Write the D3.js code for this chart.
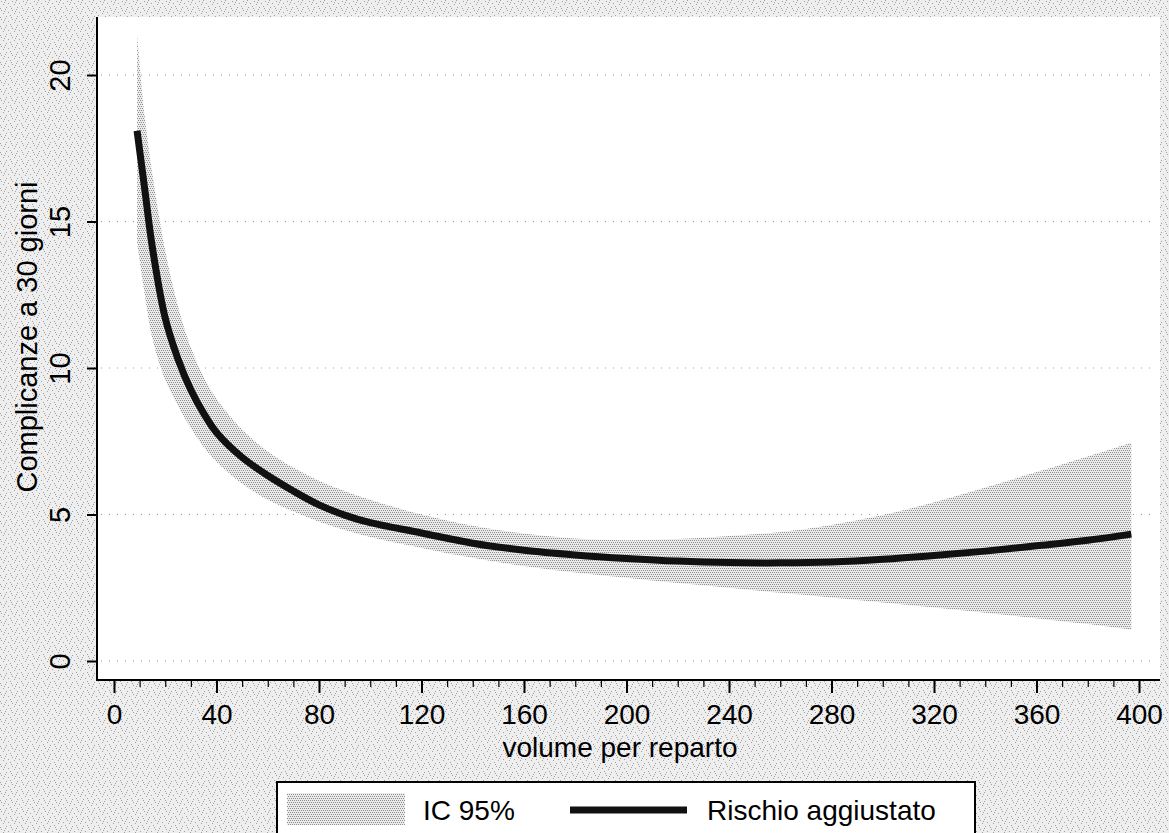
<!DOCTYPE html>
<html>
<head>
<meta charset="utf-8">
<script src="https://cdn.jsdelivr.net/npm/d3@7"></script>
<style>
  body { margin: 0; background: #fff; }
  svg { display: block; font-family: "Liberation Sans", Arial, sans-serif; }
</style>
</head>
<body>
<div id="chart"></div>
<script>
// volume per reparto (x) and curve values
var volume = [9, 12, 15, 20, 25, 30, 35, 40, 50, 60, 70, 80, 90, 100, 120, 140, 160, 180, 200, 220, 240, 260, 280, 300, 320, 340, 360, 380, 397];
var rischio = [18.1, 16.1, 14.1, 11.7, 10.3, 9.25, 8.45, 7.8, 6.95, 6.33, 5.8, 5.33, 4.98, 4.72, 4.37, 4.02, 3.78, 3.62, 3.5, 3.41, 3.36, 3.35, 3.38, 3.47, 3.6, 3.75, 3.93, 4.12, 4.33];
var icUpper = [21.4, 18.6, 16.6, 14.0, 12.1, 10.7, 9.7, 8.95, 7.9, 7.15, 6.6, 6.15, 5.8, 5.5, 5.0, 4.62, 4.35, 4.18, 4.12, 4.16, 4.27, 4.4, 4.64, 4.98, 5.42, 5.92, 6.45, 6.98, 7.45];
var icLower = [14.3, 12.5, 11.0, 9.6, 8.7, 7.95, 7.3, 6.8, 6.05, 5.5, 5.1, 4.75, 4.47, 4.23, 3.86, 3.52, 3.24, 3.02, 2.84, 2.66, 2.5, 2.33, 2.17, 2.0, 1.83, 1.65, 1.46, 1.26, 1.07];

var xTicks = [0, 40, 80, 120, 160, 200, 240, 280, 320, 360, 400];
var yTicks = [0, 5, 10, 15, 20];
var legendLabels = ["IC 95%", "Rischio aggiustato"];

var width = 1169, height = 833;

var svg = d3.select("#chart").append("svg")
  .attr("width", width)
  .attr("height", height);

var defs = svg.append("defs");

// speckled scan background
var bg = defs.append("pattern")
  .attr("id", "speckle")
  .attr("patternUnits", "userSpaceOnUse")
  .attr("width", 11).attr("height", 9);
bg.append("rect").attr("width", 11).attr("height", 9).attr("fill", "#eeeeee");
[[1, 1], [5, 0], [8, 3], [3, 4], [10, 6], [6, 7], [0, 8], [4, 2]].forEach(function(p) {
  bg.append("rect").attr("x", p[0]).attr("y", p[1]).attr("width", 1).attr("height", 1).attr("fill", "#a0a0a0");
});

// stippled band
var band = defs.append("pattern")
  .attr("id", "stipple")
  .attr("patternUnits", "userSpaceOnUse")
  .attr("width", 4).attr("height", 4);
band.append("rect").attr("width", 4).attr("height", 4).attr("fill", "#eaeaea");
[[0, 0], [2, 0], [1, 2], [3, 2]].forEach(function(p) {
  band.append("rect").attr("x", p[0]).attr("y", p[1]).attr("width", 1).attr("height", 1).attr("fill", "#8f8f8f");
});

svg.append("rect").attr("width", width).attr("height", height).attr("fill", "url(#speckle)");

var plot = { left: 97, right: 1160, top: 17, bottom: 680 };

svg.append("rect")
  .attr("x", plot.left).attr("y", plot.top)
  .attr("width", plot.right - plot.left)
  .attr("height", plot.bottom - plot.top)
  .attr("fill", "#fff");

var x = d3.scaleLinear().domain([0, 400]).range([114, 1139]);
var y = d3.scaleLinear().domain([0, 20]).range([661, 75]);

// dotted grid
svg.append("g")
  .selectAll("line")
  .data(yTicks)
  .enter().append("line")
  .attr("x1", plot.left + 4).attr("x2", plot.right - 6)
  .attr("y1", function(d) { return y(d); })
  .attr("y2", function(d) { return y(d); })
  .attr("stroke", "#999")
  .attr("stroke-width", 1)
  .attr("stroke-dasharray", "1,7");

var pts = volume.map(function(v, i) {
  return { v: v, r: rischio[i], lo: icLower[i], hi: icUpper[i] };
});

var area = d3.area()
  .x(function(d) { return x(d.v); })
  .y0(function(d) { return y(d.lo); })
  .y1(function(d) { return y(d.hi); })
  .curve(d3.curveCatmullRom.alpha(0.5));

svg.append("path")
  .datum(pts)
  .attr("d", area)
  .attr("fill", "url(#stipple)");

var line = d3.line()
  .x(function(d) { return x(d.v); })
  .y(function(d) { return y(d.r); })
  .curve(d3.curveCatmullRom.alpha(0.5));

svg.append("path")
  .datum(pts)
  .attr("d", line)
  .attr("fill", "none")
  .attr("stroke", "#111")
  .attr("stroke-width", 7)
  .attr("stroke-linejoin", "round");

// axes
var yAxis = svg.append("g")
  .attr("transform", "translate(" + plot.left + ",0)")
  .call(d3.axisLeft(y).tickValues(yTicks).tickSize(10).tickPadding(0).tickFormat(d3.format("d")));
yAxis.select(".domain").remove();
yAxis.selectAll(".tick line").attr("stroke", "#000").attr("stroke-width", 2);
yAxis.selectAll(".tick text")
  .attr("x", 0).attr("y", 0).attr("dy", null)
  .attr("text-anchor", "middle")
  .attr("transform", "translate(-27,0) rotate(-90)")
  .attr("font-size", 29)
  .attr("fill", "#000");

var xMinor = svg.append("g")
  .attr("transform", "translate(0," + plot.bottom + ")")
  .call(d3.axisBottom(x).tickValues(d3.range(0, 401, 10)).tickSize(7).tickFormat(""));
xMinor.select(".domain").remove();
xMinor.selectAll(".tick line").attr("stroke", "#000").attr("stroke-width", 1.2);

var xAxis = svg.append("g")
  .attr("transform", "translate(0," + plot.bottom + ")")
  .call(d3.axisBottom(x).tickValues(xTicks).tickSize(13).tickPadding(11));
xAxis.select(".domain").remove();
xAxis.selectAll(".tick line").attr("stroke", "#000").attr("stroke-width", 2);
xAxis.selectAll(".tick text").attr("font-size", 28).attr("fill", "#000");

svg.append("line")
  .attr("x1", plot.left).attr("x2", plot.left)
  .attr("y1", plot.top).attr("y2", plot.bottom + 1)
  .attr("stroke", "#000").attr("stroke-width", 2);
svg.append("line")
  .attr("x1", plot.left - 1).attr("x2", plot.right)
  .attr("y1", plot.bottom).attr("y2", plot.bottom)
  .attr("stroke", "#000").attr("stroke-width", 2);

// titles
svg.append("text")
  .attr("x", 620).attr("y", 757)
  .attr("text-anchor", "middle")
  .attr("font-size", 28)
  .text("volume per reparto");

svg.append("text")
  .attr("transform", "translate(37,337) rotate(-90)")
  .attr("text-anchor", "middle")
  .attr("font-size", 29)
  .text("Complicanze a 30 giorni");

// legend
var legend = svg.append("g");
legend.append("rect")
  .attr("x", 277).attr("y", 782)
  .attr("width", 698).attr("height", 70)
  .attr("fill", "#fff")
  .attr("stroke", "#000").attr("stroke-width", 2);
legend.append("rect")
  .attr("x", 287).attr("y", 793)
  .attr("width", 118).attr("height", 32)
  .attr("fill", "url(#stipple)");
legend.append("text")
  .attr("x", 423).attr("y", 820)
  .attr("font-size", 28)
  .text(legendLabels[0]);
legend.append("line")
  .attr("x1", 570).attr("x2", 687)
  .attr("y1", 810).attr("y2", 810)
  .attr("stroke", "#111").attr("stroke-width", 7);
legend.append("text")
  .attr("x", 707).attr("y", 820)
  .attr("font-size", 28)
  .text(legendLabels[1]);
</script>
</body>
</html>
